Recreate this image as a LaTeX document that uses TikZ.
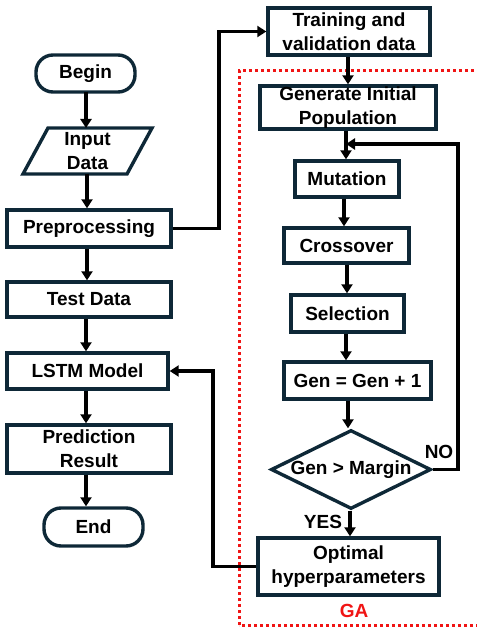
\documentclass[tikz,border=0pt]{standalone}
\usepackage{fontspec}
\setmainfont{Liberation Sans}
\usetikzlibrary{shapes.geometric,arrows.meta,calc}
\definecolor{boxline}{RGB}{14,40,55}
\definecolor{gared}{RGB}{240,20,20}
\begin{document}
\begin{tikzpicture}[x=1pt,y=-1pt,
  txt/.style={font=\fontsize{19}{24}\selectfont\bfseries, align=center, inner sep=0pt},
  procbox/.style={txt, draw=boxline, line width=3.4pt, fill=white},
  termbox/.style={procbox, rounded corners=17pt},
  conn/.style={line width=3.4pt, black, -{Triangle[length=9pt,width=11pt]}},
]
\useasboundingbox (0,0) rectangle (476,628);
% GA region
\draw[gared, line width=3pt, dash pattern=on 3pt off 3pt] (239,625) -- (239,71) -- (480,71) -- (480,625) -- cycle;
\node[txt, text=gared] (ga) at (354,611) {GA};

% left column
\node[termbox, minimum width=99pt, minimum height=37pt] (begin) at (85.5,73.5) {Begin};
\node[txt, minimum width=104pt, minimum height=46pt] (input) at (87.5,151) {Input\\Data};
\draw[boxline, line width=3.4pt, line join=miter, fill=white]
  ($(input.center)+(-39.5,-23)$) -- ($(input.center)+(64.5,-23)$) -- ($(input.center)+(39.5,23)$) -- ($(input.center)+(-64.5,23)$) -- cycle;
\node[txt] at (input.center) {Input\\Data};
\node[procbox, minimum width=164pt, minimum height=37pt] (prep) at (89,228.5) {Preprocessing};
\node[procbox, minimum width=164pt, minimum height=35pt] (test) at (89,299.5) {Test Data};
\node[procbox, minimum width=161pt, minimum height=36pt] (lstm) at (87.5,371) {LSTM Model};
\node[procbox, minimum width=164pt, minimum height=48pt] (pred) at (89,449) {Prediction\\Result};
\node[termbox, minimum width=99pt, minimum height=38pt] (end) at (93.5,527) {End};

% right column
\node[procbox, minimum width=162pt, minimum height=47pt] (train) at (349,31.5) {Training and\\validation data};
\node[procbox, minimum width=176pt, minimum height=43pt] (gen) at (348,107.5) {Generate Initial\\Population};
\node[procbox, minimum width=104pt, minimum height=36pt] (mut) at (347,179) {Mutation};
\node[procbox, minimum width=125pt, minimum height=35pt] (cross) at (346.5,245.5) {Crossover};
\node[procbox, minimum width=113pt, minimum height=37pt] (sel) at (347.5,313.5) {Selection};
\node[procbox, minimum width=147pt, minimum height=37pt] (inc) at (357.5,380.5) {Gen = Gen + 1};
\node[procbox, shape=diamond, aspect=2, minimum width=160pt, minimum height=79pt] (dia) at (351,469.5) {Gen > Margin};
\node[procbox, minimum width=181pt, minimum height=57pt] (opt) at (348.5,566.5) {Optimal\\hyperparameters};
\node[txt] (no) at (439,452) {NO};
\node[txt] (yes) at (323,522) {YES};

% left connectors
\draw[conn] (86,92) -- (86,128);
\draw[conn] (87,174) -- (prep.north -| 87,0);
\draw[conn] (prep.south -| 87,0) -- (test.north -| 87,0);
\draw[conn] (test.south -| 86,0) -- (lstm.north -| 86,0);
\draw[conn] (lstm.south -| 86,0) -- (pred.north -| 86,0);
\draw[conn] (pred.south -| 86,0) -- (end.north -| 86,0);

% cross connectors
\coordinate (c1) at (219,228.5);
\draw[conn] (prep.east) -- (c1) |- (train.west);
\draw[conn] (train.south -| 348,0) -- (gen.north -| 348,0);
\coordinate (join) at (346,144);
\draw[conn] (gen.south -| 346,0) -- (mut.north -| 346,0);
\draw[conn] (mut.south -| 344,0) -- (cross.north -| 344,0);
\draw[conn] (cross.south -| 347,0) -- (sel.north -| 347,0);
\draw[conn] (sel.south -| 346,0) -- (inc.north -| 346,0);
\draw[conn] (inc.south -| 348,0) -- (dia.north -| 348,0);
\draw[conn] (dia.south -| 350,0) -- (opt.north -| 350,0);
\coordinate (c2) at (458,469.5);
\coordinate (c3) at (458,144);
\draw[conn] (dia.east) -- (c2) -- (c3) -- (join);
\coordinate (c4) at (213,566.5);
\draw[conn] (opt.west) -- (c4) |- (lstm.east);
\end{tikzpicture}
\end{document}
